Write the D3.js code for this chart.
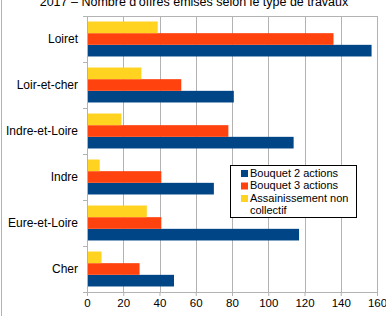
<!DOCTYPE html>
<html>
<head>
<meta charset="utf-8">
<script src="https://cdn.jsdelivr.net/npm/d3@7"></script>
<style>
body{margin:0;background:#fff;}
svg{display:block;font-family:"Liberation Sans",Arial,sans-serif;}
</style>
</head>
<body>
<div id="chart"></div>
<script>
// data
var categories = ["Loiret", "Loir-et-cher", "Indre-et-Loire", "Indre", "Eure-et-Loire", "Cher"];
var seriesNames = ["Bouquet 2 actions", "Bouquet 3 actions", "Assainissement non collectif"];
var bouquet2 = [157, 81, 114, 70, 117, 48];
var bouquet3 = [136, 52, 78, 41, 41, 29];
var assain = [39, 30, 19, 7, 33, 8];
var xTicks = [0, 20, 40, 60, 80, 100, 120, 140, 160];
var colors = ["#004586", "#ff420e", "#ffd320"];

var W = 386, H = 316;
var margin = {top: 16, right: 9, bottom: 24, left: 87};
var width = W - margin.left - margin.right,
    height = H - margin.top - margin.bottom;

var svg = d3.select("#chart").append("svg")
  .attr("width", W).attr("height", H);

// frame line at the left edge of the picture
svg.append("line").attr("x1", 1.5).attr("x2", 1.5).attr("y1", 0).attr("y2", H)
  .attr("stroke", "#b3b3b3");

svg.append("text")
  .attr("x", 194).attr("y", 6)
  .attr("text-anchor", "middle")
  .style("font-size", "12.5px").attr("fill", "#000")
  .text("2017 \u2013 Nombre d'offres \u00e9mises selon le type de travaux");

var g = svg.append("g").attr("transform", "translate(" + margin.left + "," + margin.top + ")");

var x = d3.scaleLinear().domain([0, 160]).range([0, width]);
var y = d3.scaleBand().domain(categories).range([0, height]).paddingInner(0.24).paddingOuter(0.12);
// yellow on top, then red, then blue
var order = [2, 1, 0];
var sub = d3.scaleBand().domain(order).range([0, y.bandwidth()]);

// grid
g.selectAll(".grid").data(xTicks).enter().append("line")
  .attr("x1", function(d){return Math.round(x(d)) + 0.5})
  .attr("x2", function(d){return Math.round(x(d)) + 0.5})
  .attr("y1", 0).attr("y2", height)
  .attr("stroke", "#b3b3b3");
g.append("line").attr("x1", 0).attr("x2", width).attr("y1", 0.5).attr("y2", 0.5).attr("stroke", "#b3b3b3");

var rows = categories.map(function(c, i){
  return {key: c, values: [bouquet2[i], bouquet3[i], assain[i]]};
});

var grp = g.selectAll(".cat").data(rows).enter().append("g")
  .attr("transform", function(d){return "translate(0," + y(d.key) + ")"});
grp.selectAll("rect").data(function(d){return d.values.map(function(v, k){return {k: k, v: v}})})
  .enter().append("rect")
  .attr("x", 0)
  .attr("y", function(d){return sub(d.k)})
  .attr("height", sub.bandwidth())
  .attr("width", function(d){return x(d.v)})
  .attr("fill", function(d){return colors[d.k]});

// bottom axis
var xAxis = g.append("g").attr("transform", "translate(0," + height + ")")
  .call(d3.axisBottom(x).tickValues(xTicks).tickSize(4).tickPadding(3));
xAxis.select(".domain").attr("stroke", "#b3b3b3");
xAxis.selectAll(".tick line").attr("stroke", "#b3b3b3");
xAxis.selectAll("text").style("font-size", "11.5px").attr("fill", "#000")
  .style("font-family", "Liberation Sans, Arial, sans-serif");

// left axis with ticks between categories
var yAxis = g.append("g");
yAxis.append("line").attr("x1", 0.5).attr("x2", 0.5).attr("y1", 0).attr("y2", height + 4).attr("stroke", "#b3b3b3");
var bounds = d3.range(categories.length + 1).map(function(i){return i * height / categories.length});
yAxis.selectAll(".yt").data(bounds).enter().append("line")
  .attr("x1", -4).attr("x2", 0)
  .attr("y1", function(d){return Math.round(d) + 0.5})
  .attr("y2", function(d){return Math.round(d) + 0.5})
  .attr("stroke", "#b3b3b3");
yAxis.selectAll(".yl").data(categories).enter().append("text")
  .attr("x", -9)
  .attr("y", function(d){return y(d) + y.bandwidth() / 2})
  .attr("dy", "0.35em")
  .attr("text-anchor", "end")
  .style("font-size", "12px").attr("fill", "#000")
  .text(function(d){return d});

// legend
var lg = svg.append("g").attr("transform", "translate(230,165)");
lg.append("rect").attr("x", 0.5).attr("y", 0.5).attr("width", 126).attr("height", 52)
  .attr("fill", "#fff").attr("stroke", "#000");
var legendLines = [[seriesNames[0]], [seriesNames[1]], ["Assainissement non", "collectif"]];
legendLines.forEach(function(lines, k){
  var yy = 8 + k * 12.5;
  lg.append("rect").attr("x", 11).attr("y", yy - 3).attr("width", 7).attr("height", 7).attr("fill", colors[k]);
  lines.forEach(function(t, j){
    lg.append("text").attr("x", 20).attr("y", yy + j * 12.5).attr("dy", "0.35em")
      .style("font-size", "11px").attr("fill", "#000").text(t);
  });
});
</script>
</body>
</html>
